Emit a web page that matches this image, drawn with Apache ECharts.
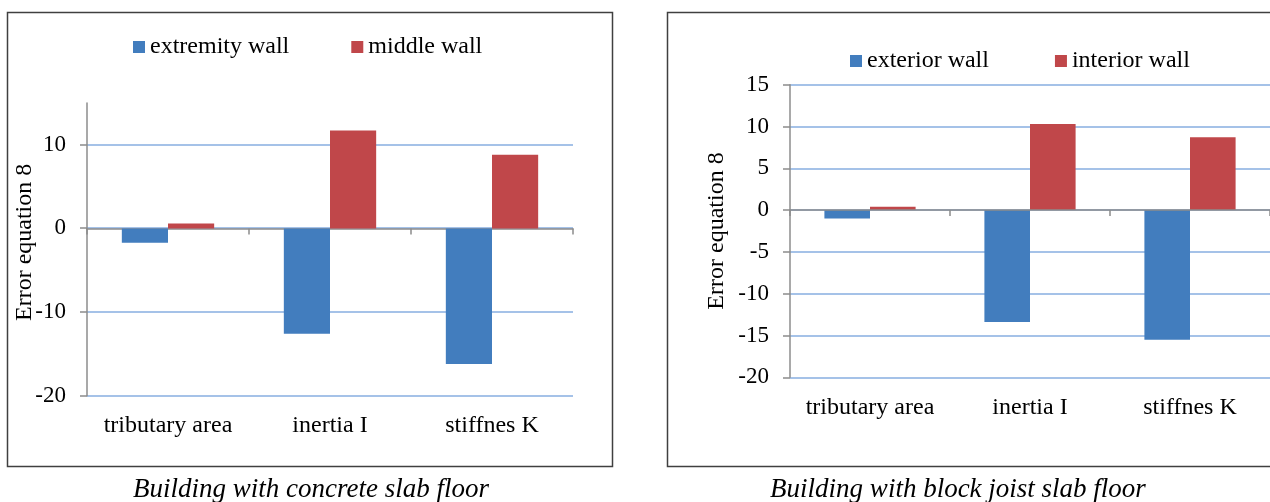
<!DOCTYPE html>
<html><head><meta charset="utf-8">
<script src="https://cdn.jsdelivr.net/npm/echarts@6/dist/echarts.min.js"></script>
<style>html,body{margin:0;padding:0;background:#fff}#c{width:1270px;height:502px}</style>
</head><body><div id="c"></div>
<script>
// ---- data ----
const categories = ['tributary area', 'inertia I', 'stiffnes K'];
const concreteExtremity = [-1.7, -12.6, -16.2];
const concreteMiddle = [0.6, 11.7, 8.8];
const blockExterior = [-1.0, -13.4, -15.5];
const blockInterior = [0.4, 10.3, 8.7];
const leftTicks = [-20, -10, 0, 10];
const leftAxisTop = 15;
const rightTicks = [-20, -15, -10, -5, 0, 5, 10, 15];
const leftLegend = ['extremity wall', 'middle wall'];
const rightLegend = ['exterior wall', 'interior wall'];
const yName = 'Error equation 8';
const leftCaption = 'Building with concrete slab floor';
const rightCaption = 'Building with block joist slab floor';

// ---- style ----
const FONT = 'Liberation Serif';
const BLUE = '#427DBE';
const RED = '#C0474A';
const AXIS = '#8C8C8C';
const GRIDC = '#87AEE0';
const tick = { fontFamily: FONT, fontSize: 23, color: '#000', fontWeight: 'normal' };
const txt = { fontFamily: FONT, fontSize: 24, color: '#000', fontWeight: 'normal' };

const chart = echarts.init(document.getElementById('c'), null, { renderer: 'canvas' });

const option = {
  animation: false,
  backgroundColor: '#fff',
  textStyle: { fontFamily: FONT },
  grid: [
    { left: 87, top: 103, width: 486, height: 292.7 },
    { left: 87, top: 144.5, width: 486, height: 251.2 },
    { left: 790, top: 84.7, width: 482, height: 292.6 },
    { left: 790, top: 84.7, width: 482, height: 292.6 }
  ],
  xAxis: [
    { gridIndex: 0, type: 'category', data: categories,
      axisLine: { onZero: true, lineStyle: { color: AXIS, width: 1.5 } },
      axisTick: { show: true, length: 6, lineStyle: { color: AXIS, width: 1.5 } },
      axisLabel: { show: false } },
    { gridIndex: 1, type: 'category', data: categories, position: 'bottom',
      axisLine: { show: false, onZero: false }, axisTick: { show: false },
      axisLabel: Object.assign({ margin: 18, interval: 0 }, txt) },
    { gridIndex: 2, type: 'category', data: categories,
      axisLine: { onZero: true, lineStyle: { color: AXIS, width: 1.5 } },
      axisTick: { show: true, length: 6, lineStyle: { color: AXIS, width: 1.5 } },
      axisLabel: { show: false }, z: 3 },
    { gridIndex: 3, type: 'category', data: categories, position: 'bottom',
      axisLine: { show: false, onZero: false }, axisTick: { show: false },
      axisLabel: Object.assign({ margin: 18, interval: 0 }, txt) }
  ],
  yAxis: [
    { gridIndex: 0, type: 'value', min: leftTicks[0], max: leftAxisTop,
      axisLine: { show: true, lineStyle: { color: AXIS, width: 1.5 } },
      axisTick: { show: false }, axisLabel: { show: false }, splitLine: { show: false },
      name: yName, nameLocation: 'middle', nameGap: 50,
      nameTextStyle: Object.assign({ padding: [0, 0, 0, 14] }, txt) },
    { gridIndex: 1, type: 'value', min: leftTicks[0], max: leftTicks[leftTicks.length - 1],
      interval: leftTicks[1] - leftTicks[0],
      axisLine: { show: false }, axisTick: { show: true, length: 7, lineStyle: { color: AXIS, width: 1.5 } },
      axisLabel: Object.assign({ margin: 21 }, tick),
      splitLine: { show: true, lineStyle: { color: GRIDC, width: 1.6 } } },
    { gridIndex: 2, type: 'value', min: rightTicks[0], max: rightTicks[rightTicks.length - 1],
      interval: rightTicks[1] - rightTicks[0],
      axisLine: { show: true, lineStyle: { color: AXIS, width: 1.5 } },
      axisTick: { show: true, length: 7, lineStyle: { color: AXIS, width: 1.5 } },
      axisLabel: Object.assign({ margin: 21 }, tick),
      splitLine: { show: true, lineStyle: { color: GRIDC, width: 1.6 } },
      name: yName, nameLocation: 'middle', nameGap: 61, nameTextStyle: txt },
    { gridIndex: 3, type: 'value', min: rightTicks[0], max: rightTicks[rightTicks.length - 1],
      show: false }
  ],
  legend: [
    { data: leftLegend, left: 133, top: 35, icon: 'rect', itemWidth: 12, itemHeight: 12,
      itemGap: 62, selectedMode: false, textStyle: txt, padding: 0 },
    { data: rightLegend, left: 850, top: 49, icon: 'rect', itemWidth: 12, itemHeight: 12,
      itemGap: 66, selectedMode: false, textStyle: txt, padding: 0 }
  ],
  series: [
    { type: 'bar', name: leftLegend[0], xAxisIndex: 0, yAxisIndex: 0, data: concreteExtremity,
      barGap: '0%', barCategoryGap: '43%', itemStyle: { color: BLUE } },
    { type: 'bar', name: leftLegend[1], xAxisIndex: 0, yAxisIndex: 0, data: concreteMiddle,
      barGap: '0%', barCategoryGap: '43%', itemStyle: { color: RED } },
    { type: 'bar', name: rightLegend[0], xAxisIndex: 2, yAxisIndex: 2, data: blockExterior,
      barGap: '0%', barCategoryGap: '43%', itemStyle: { color: BLUE } },
    { type: 'bar', name: rightLegend[1], xAxisIndex: 2, yAxisIndex: 2, data: blockInterior,
      barGap: '0%', barCategoryGap: '43%', itemStyle: { color: RED } }
  ],
  graphic: [
    { type: 'rect', shape: { x: 7.5, y: 12.5, width: 605, height: 454 }, z: -10,
      style: { fill: 'none', stroke: '#404040', lineWidth: 1.5 } },
    { type: 'rect', shape: { x: 667.5, y: 12.5, width: 640, height: 454 }, z: -10,
      style: { fill: 'none', stroke: '#404040', lineWidth: 1.5 } },
    { type: 'text', x: 311, y: 490, style: { text: leftCaption, fontFamily: FONT, fontSize: 27,
      fontStyle: 'italic', fontWeight: 'normal', fill: '#000', textAlign: 'center', textVerticalAlign: 'middle' } },
    { type: 'text', x: 958, y: 490, style: { text: rightCaption, fontFamily: FONT, fontSize: 27,
      fontStyle: 'italic', fontWeight: 'normal', fill: '#000', textAlign: 'center', textVerticalAlign: 'middle' } }
  ]
};
chart.setOption(option);
</script>
</body></html>
